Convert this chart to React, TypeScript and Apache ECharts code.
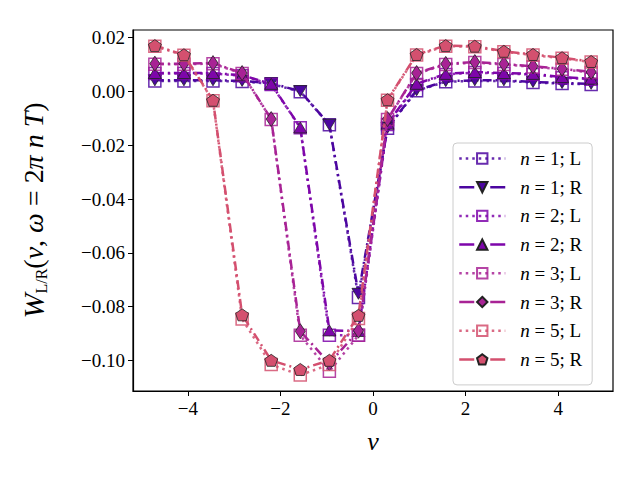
import React, { useEffect, useRef } from "react";
import * as echarts from "echarts";

const nu = [-4.712, -4.084, -3.456, -2.827, -2.199, -1.571, -0.942, -0.314, 0.314, 0.942, 1.571, 2.199, 2.827, 3.456, 4.084, 4.712];

const n1L = [0.0039, 0.0039, 0.0039, 0.0037, 0.0028, -0.0001, -0.0124, -0.0766, -0.0137, 0.0002, 0.0036, 0.0039, 0.0039, 0.0033, 0.0029, 0.0026];
const n1R = [0.0041, 0.0041, 0.0041, 0.0039, 0.0030, 0.0001, -0.0124, -0.0752, -0.0135, 0.0004, 0.0038, 0.0041, 0.0041, 0.0035, 0.0031, 0.0028];
const n2L = [0.0066, 0.0066, 0.0066, 0.0058, 0.0026, -0.0135, -0.0906, -0.0906, -0.0123, 0.0026, 0.0063, 0.0070, 0.0066, 0.0063, 0.0051, 0.0045];
const n2R = [0.0068, 0.0068, 0.0068, 0.0060, 0.0028, -0.0134, -0.0888, -0.0890, -0.0120, 0.0028, 0.0065, 0.0072, 0.0068, 0.0065, 0.0053, 0.0047];
const n3L = [0.0101, 0.0101, 0.0103, 0.0066, -0.0104, -0.0906, -0.1040, -0.0906, -0.0104, 0.0066, 0.0100, 0.0107, 0.0100, 0.0091, 0.0082, 0.0070];
const n3R = [0.0103, 0.0103, 0.0105, 0.0068, -0.0103, -0.0891, -0.1010, -0.0889, -0.0103, 0.0068, 0.0102, 0.0109, 0.0102, 0.0093, 0.0084, 0.0072];
const n5L = [0.0168, 0.0134, -0.0035, -0.0846, -0.1015, -0.1054, -0.1015, -0.0844, -0.0033, 0.0135, 0.0168, 0.0166, 0.0147, 0.0135, 0.0123, 0.0109];
const n5R = [0.0170, 0.0136, -0.0033, -0.0830, -0.0999, -0.1033, -0.0999, -0.0832, -0.0031, 0.0137, 0.0170, 0.0168, 0.0149, 0.0137, 0.0125, 0.0111];

const xTicks = [-4, -2, 0, 2, 4];
const yTicks = [-0.1, -0.08, -0.06, -0.04, -0.02, 0, 0.02];

const seriesNames = ["n = 1; L", "n = 1; R", "n = 2; L", "n = 2; R", "n = 3; L", "n = 3; R", "n = 5; L", "n = 5; R"];
const seriesValues = [n1L, n1R, n2L, n2R, n3L, n3R, n5L, n5R];
const colors = ["#4c06a0", "#4c06a0", "#7e06aa", "#7e06aa", "#a82395", "#a82395", "#d4506f", "#d4506f"];

const PENTAGON = "path://M0,-1L0.951,-0.309L0.588,0.809L-0.588,0.809L-0.951,-0.309Z";
const FONT = "Liberation Serif";

function fmt(v: number) {
  const s = Math.abs(v).toFixed(2);
  return v < -1e-9 ? "\u2212" + s : s;
}

export default function App() {
  const ref = useRef<HTMLDivElement>(null);
  useEffect(() => {
    const chart = echarts.init(ref.current!, null, { renderer: "svg" });
    const rSymbols: any[] = [
      { symbol: "triangle", symbolRotate: 180, symbolSize: [13, 11] },
      { symbol: "triangle", symbolRotate: 0, symbolSize: [13, 11] },
      { symbol: "diamond", symbolRotate: 0, symbolSize: [10, 15] },
      { symbol: PENTAGON, symbolRotate: 0, symbolSize: [13, 12] },
    ];
    const dotted = [2.5, 4];
    const dashDot = [9, 4, 2, 4];
    const series = seriesValues.map((vals, i) => {
      const isL = i % 2 === 0;
      const c = colors[i];
      const base: any = {
        name: seriesNames[i],
        type: "line",
        data: vals.map((v, k) => [nu[k], v]),
        z: 2 + i,
        clip: false,
        showSymbol: true,
        showAllSymbol: true,
      };
      if (isL) {
        return {
          ...base,
          symbol: "rect",
          symbolSize: 12,
          lineStyle: { color: c, width: 2.5, type: dotted, opacity: 0.85 },
          itemStyle: { color: "rgba(255,255,255,0)", borderColor: c, borderWidth: 1.5, opacity: 0.85 },
        };
      }
      const s = rSymbols[(i - 1) / 2];
      return {
        ...base,
        ...s,
        symbolKeepAspect: false,
        lineStyle: { color: c, width: 2.5, type: dashDot },
        itemStyle: { color: c, borderColor: "#222", borderWidth: 0.8 },
      };
    });

    const legendData = seriesNames.map((name, i) =>
      i % 2 === 0
        ? { name, lineStyle: { type: dotted, width: 2.5, color: colors[i], opacity: 0.85 } }
        : { name, lineStyle: { type: [15, 16], width: 2.5, color: colors[i] } }
    );

    chart.setOption({
      animation: false,
      backgroundColor: "#fff",
      textStyle: { fontFamily: FONT },
      grid: { left: 133, right: 27, top: 30, bottom: 89, show: true, borderColor: "#000", borderWidth: 1.2, backgroundColor: "transparent" },
      xAxis: {
        type: "value",
        min: -5.184,
        max: 5.184,
        name: "ν",
        nameLocation: "middle",
        nameGap: 37,
        nameTextStyle: { fontFamily: FONT, fontSize: 26, fontStyle: "italic", color: "#000" },
        axisLine: { show: true, onZero: false, lineStyle: { color: "#000", width: 1.2 } },
        axisTick: { show: true, inside: false, length: 5, lineStyle: { color: "#000", width: 1 }, customValues: xTicks },
        axisLabel: { color: "#000", fontSize: 19, fontFamily: FONT, margin: 8, formatter: (v: number) => fmt(v).replace(".00", ""), customValues: xTicks },
        splitLine: { show: false },
      },
      yAxis: {
        type: "value",
        min: -0.1113,
        max: 0.0228,
        name: "{w|W}{s|L/R}{r|(}{i|ν}{r|, }{i|ω}{r| = 2}{i|π n T}{r|)}",
        nameLocation: "middle",
        nameRotate: 90,
        nameGap: 84,
        nameTextStyle: {
          color: "#000",
          rich: {
            w: { fontFamily: FONT, fontSize: 30, fontStyle: "italic", lineHeight: 32, verticalAlign: "middle", color: "#000" },
            s: { fontFamily: FONT, fontSize: 16, lineHeight: 16, verticalAlign: "bottom", color: "#000" },
            r: { fontFamily: FONT, fontSize: 28, lineHeight: 32, verticalAlign: "middle", color: "#000" },
            i: { fontFamily: FONT, fontSize: 28, fontStyle: "italic", lineHeight: 32, verticalAlign: "middle", color: "#000" },
          },
        },
        axisLine: { show: true, onZero: false, lineStyle: { color: "#000", width: 1.2 } },
        axisTick: { show: true, inside: false, length: 5, lineStyle: { color: "#000", width: 1 }, customValues: yTicks },
        axisLabel: { color: "#000", fontSize: 19, fontFamily: FONT, margin: 8, formatter: (v: number) => fmt(v), customValues: yTicks },
        splitLine: { show: false },
      },
      legend: {
        orient: "vertical",
        left: 453,
        top: 143,
        width: 150,
        padding: [6, 10, 16, 5],
        itemWidth: 46,
        itemHeight: 13,
        itemGap: 9.7,
        backgroundColor: "rgba(255,255,255,0.8)",
        borderColor: "#cccccc",
        borderWidth: 1,
        borderRadius: 4,
        data: legendData,
        formatter: (name: string) => "{i|n}{t|" + name.slice(1) + "}",
        textStyle: {
          lineHeight: 16,
          rich: {
            i: { fontFamily: FONT, fontSize: 19, lineHeight: 16, fontStyle: "italic", color: "#000", padding: [0, 0, 0, 10] },
            t: { fontFamily: FONT, fontSize: 19, lineHeight: 16, color: "#000" },
          },
        },
      },
      series,
    });
    return () => chart.dispose();
  }, []);
  return <div ref={ref} style={{ position: "fixed", left: 0, top: 0, width: 640, height: 480 }} />;
}
